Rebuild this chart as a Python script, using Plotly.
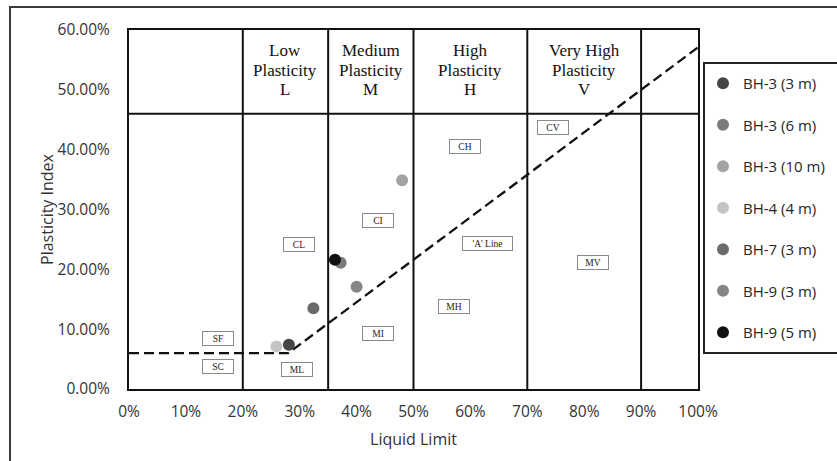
import plotly.graph_objects as go

# ---- data ----
samples = ["BH-3 (3 m)", "BH-3 (6 m)", "BH-3 (10 m)", "BH-4 (4 m)",
           "BH-7 (3 m)", "BH-9 (3 m)", "BH-9 (5 m)"]
liquid_limit = [28.1, 37.2, 48.0, 25.9, 32.4, 40.0, 36.2]
plasticity_index = [7.4, 21.1, 34.9, 7.1, 13.5, 17.1, 21.6]
sample_colors = ["#454545", "#7b7b7b", "#a3a3a3", "#c4c4c4",
                 "#6b6b6b", "#858585", "#111111"]

a_line_ll = [0, 28, 100]
a_line_pi = [6, 6, 57.1]

zone_bounds = [20, 35, 50, 70, 90]
header_pi = 46
zone_lines = [["Low", "Plasticity", "L"], ["Medium", "Plasticity", "M"],
              ["High", "Plasticity", "H"], ["Very High", "Plasticity", "V"]]
zone_centers = [27.5, 42.5, 60, 80]
zone_line_pi = [56.5, 53.3, 50.1]

soil_codes = ["SF", "SC", "CL", "ML", "CI", "MI", "CH", "MH", "'A' Line", "CV", "MV"]
code_ll = [15.7, 15.7, 29.9, 29.6, 43.8, 43.8, 59.0, 57.2, 63.0, 74.6, 81.5]
code_pi = [8.4, 3.7, 24.1, 3.3, 28.1, 9.2, 40.5, 13.8, 24.4, 43.7, 21.1]

x_ticks = [0, 10, 20, 30, 40, 50, 60, 70, 80, 90, 100]
x_tick_text = ["0%", "10%", "20%", "30%", "40%", "50%", "60%", "70%", "80%", "90%", "100%"]
y_ticks = [0, 10, 20, 30, 40, 50, 60]
y_tick_text = ["0.00%", "10.00%", "20.00%", "30.00%", "40.00%", "50.00%", "60.00%"]

# ---- figure ----
W, H = 837, 461
L, R, T, B = 129, 139, 30, 72
pw, ph = W - L - R, H - T - B

def px(x):
    return (x - L) / pw

def py(y):
    return (H - B - y) / ph

fig = go.Figure()

fig.add_trace(go.Scatter(
    x=a_line_ll, y=a_line_pi, mode="lines",
    line=dict(color="#111111", width=2.3, dash="10px,5px"),
    showlegend=False, hoverinfo="skip"))

for i, name in enumerate(samples):
    fig.add_trace(go.Scatter(
        x=[liquid_limit[i]], y=[plasticity_index[i]], mode="markers",
        name=name, legendgroup=name,
        marker=dict(color=sample_colors[i], size=12)))

shapes = []
for xb in zone_bounds:
    shapes.append(dict(type="line", xref="x", yref="y", x0=xb, x1=xb, y0=0, y1=60,
                       line=dict(color="#111111", width=2), layer="below"))
shapes.append(dict(type="line", xref="x", yref="y", x0=0, x1=100, y0=header_pi, y1=header_pi,
                   line=dict(color="#111111", width=2), layer="below"))
# outer chart frame
shapes.append(dict(type="rect", xref="paper", yref="paper",
                   x0=px(10), x1=px(900), y0=py(520), y1=py(7),
                   line=dict(color="#3a3a3a", width=2), layer="below"))
# legend frame
shapes.append(dict(type="rect", xref="paper", yref="paper",
                   x0=px(704), x1=px(900), y0=py(353), y1=py(63),
                   line=dict(color="#222222", width=2), layer="below"))

annotations = []
for lines, xc in zip(zone_lines, zone_centers):
    for txt, yc in zip(lines, zone_line_pi):
        annotations.append(dict(x=xc, y=yc, xref="x", yref="y", text=txt,
                                showarrow=False, align="center",
                                font=dict(family="Liberation Serif", size=17, color="#111111")))
for code, xc, yc in zip(soil_codes, code_ll, code_pi):
    annotations.append(dict(x=xc, y=yc, xref="x", yref="y", text=code,
                            showarrow=False, width=(47 if len(code) > 3 else 28), height=11,
                            bgcolor="white", bordercolor="#8a8a8a", borderwidth=1, borderpad=1,
                            font=dict(family="Liberation Serif", size=9.5, color="#222222")))

fig.update_layout(
    width=W, height=H,
    margin=dict(l=L, r=R, t=T, b=B, autoexpand=False),
    paper_bgcolor="white", plot_bgcolor="white",
    font=dict(family="Open Sans", size=15, color="#333333"),
    shapes=shapes, annotations=annotations,
    showlegend=True,
    legend=dict(x=px(703), y=py(67), xanchor="left", yanchor="top",
                bgcolor="rgba(0,0,0,0)", borderwidth=0,
                tracegroupgap=19, itemwidth=30,
                font=dict(family="Open Sans", size=15, color="#262626")),
)

fig.update_xaxes(range=[0, 100], tickmode="array", tickvals=x_ticks, ticktext=x_tick_text,
                 showgrid=False, zeroline=False,
                 showline=True, mirror=True, linecolor="#111111", linewidth=2,
                 ticks="", ticklabelstandoff=7,
                 tickfont=dict(size=15.5, color="#333333"),
                 title=dict(text="Liquid Limit", standoff=13,
                            font=dict(size=16, color="#333333")))
fig.update_yaxes(range=[0, 60], tickmode="array", tickvals=y_ticks, ticktext=y_tick_text,
                 showgrid=False, zeroline=False,
                 showline=True, mirror=True, linecolor="#111111", linewidth=2,
                 ticks="", ticklabelstandoff=14,
                 tickfont=dict(size=15.5, color="#333333"),
                 title=dict(text="Plasticity Index", standoff=0,
                            font=dict(size=16, color="#333333")))

fig.write_html("out.html")
